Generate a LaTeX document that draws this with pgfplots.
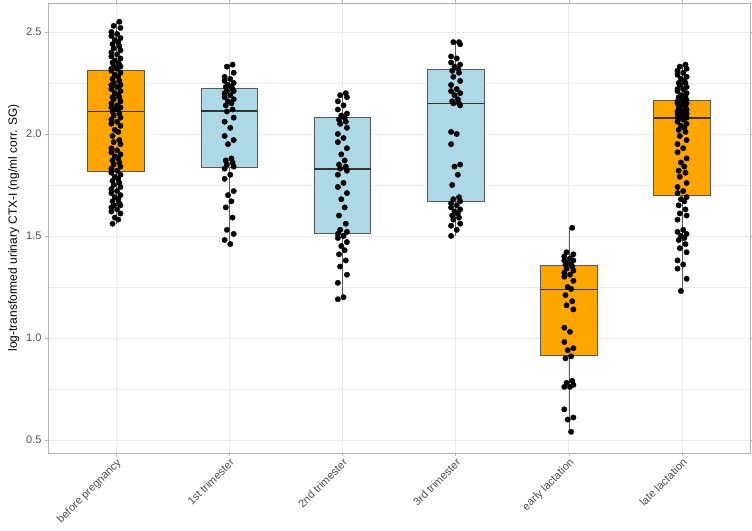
\documentclass[border=0pt]{standalone}
\usepackage{pgfplots}
\pgfplotsset{compat=1.18}
\usepackage{pgfplotstable}
\usepackage{fontspec}
\setmainfont{Liberation Sans}
\definecolor{boxorange}{HTML}{FFA500}
\definecolor{boxblue}{HTML}{ADD8E6}
\definecolor{gridgray}{HTML}{EBEBEB}
\definecolor{bordergray}{HTML}{B3B3B3}
\definecolor{textgray}{HTML}{4D4D4D}
\definecolor{outl}{HTML}{5A5A5A}
\definecolor{medc}{HTML}{333333}

% box statistics: pos lw lq med uq uw
\pgfplotstableread{
pos lw lq med uq uw
0 1.56 1.815 2.109 2.314 2.55
1 1.46 1.837 2.113 2.224 2.34
2 1.19 1.513 1.827 2.080 2.20
3 1.50 1.672 2.149 2.317 2.45
4 0.54 0.915 1.237 1.356 1.54
5 1.23 1.699 2.078 2.167 2.34
}\boxstats

\pgfplotstableread{
x y
0.03 2.55
-0.02 2.53
0.04 2.52
-0.04 2.50
0.01 2.49
-0.04 2.48
0.04 2.47
-0.01 2.46
0.02 2.45
-0.03 2.44
0.03 2.43
-0.02 2.42
0.04 2.41
-0.04 2.40
0.01 2.39
-0.04 2.38
0.04 2.37
-0.01 2.36
0.02 2.35
-0.03 2.35
0.03 2.34
-0.02 2.33
0.04 2.33
-0.04 2.32
0.01 2.32
-0.04 2.31
0.04 2.30
-0.01 2.29
0.02 2.28
-0.03 2.27
0.03 2.26
-0.02 2.25
0.04 2.24
-0.04 2.24
0.01 2.23
-0.04 2.22
0.04 2.21
-0.01 2.20
0.02 2.19
-0.03 2.18
0.03 2.18
-0.02 2.17
0.04 2.16
-0.04 2.15
0.01 2.14
-0.04 2.13
0.04 2.13
-0.01 2.12
0.02 2.12
-0.03 2.11
0.03 2.10
-0.02 2.09
0.04 2.08
-0.04 2.07
0.01 2.06
-0.04 2.05
0.04 2.04
-0.01 2.02
0.02 2.01
-0.03 1.99
0.03 1.97
-0.02 1.96
0.04 1.95
-0.04 1.93
0.01 1.92
-0.04 1.91
0.04 1.90
-0.01 1.89
0.02 1.88
-0.03 1.87
0.03 1.86
-0.02 1.85
0.04 1.84
-0.04 1.83
0.01 1.82
-0.04 1.81
0.04 1.80
-0.01 1.79
0.02 1.78
-0.03 1.77
0.03 1.76
-0.02 1.75
0.04 1.74
-0.04 1.73
0.01 1.72
-0.04 1.71
0.04 1.70
-0.01 1.69
0.02 1.68
-0.03 1.67
0.03 1.66
-0.02 1.65
0.04 1.65
-0.04 1.64
0.01 1.63
-0.04 1.62
0.04 1.61
-0.01 1.59
0.02 1.58
-0.03 1.56
}\ptsA

\pgfplotstableread{
x y
1.03 2.34
0.98 2.33
1.04 2.30
0.96 2.28
1.01 2.27
0.96 2.26
1.04 2.25
0.99 2.24
1.02 2.23
0.97 2.23
1.03 2.22
0.98 2.21
1.04 2.21
0.96 2.20
1.01 2.19
0.96 2.18
1.04 2.17
0.99 2.16
1.02 2.15
0.97 2.14
1.03 2.12
0.98 2.11
1.04 2.08
0.96 2.06
1.01 2.03
0.96 1.99
1.04 1.97
0.99 1.95
1.02 1.88
0.97 1.87
1.03 1.86
0.98 1.85
1.04 1.84
0.96 1.83
1.01 1.80
0.96 1.78
1.04 1.72
0.99 1.70
1.02 1.67
0.97 1.64
1.03 1.59
0.98 1.53
1.04 1.51
0.96 1.48
1.01 1.46
}\ptsB

\pgfplotstableread{
x y
2.03 2.20
1.98 2.19
2.04 2.18
1.96 2.16
2.01 2.14
1.96 2.12
2.04 2.10
1.99 2.09
2.02 2.08
1.97 2.07
2.03 2.06
1.98 2.05
2.04 2.03
1.96 2.00
2.01 1.98
1.96 1.96
2.04 1.93
1.99 1.90
2.02 1.87
1.97 1.85
2.03 1.84
1.98 1.83
2.04 1.82
1.96 1.80
2.01 1.76
1.96 1.74
2.04 1.71
1.99 1.68
2.02 1.64
1.97 1.60
2.03 1.56
1.98 1.53
2.04 1.52
1.96 1.51
2.01 1.50
1.96 1.49
2.04 1.47
1.99 1.45
2.02 1.43
1.97 1.41
2.03 1.38
1.98 1.35
2.04 1.31
1.96 1.27
2.01 1.20
1.96 1.19
}\ptsC

\pgfplotstableread{
x y
3.03 2.45
2.98 2.45
3.04 2.44
2.96 2.38
3.01 2.37
2.96 2.35
3.04 2.34
2.99 2.33
3.02 2.32
2.97 2.31
3.03 2.30
2.98 2.28
3.04 2.26
2.96 2.24
3.01 2.22
2.96 2.21
3.04 2.20
2.99 2.19
3.02 2.17
2.97 2.16
3.03 2.15
2.98 2.15
3.04 2.14
2.96 2.01
3.01 2.00
2.96 1.95
3.04 1.85
2.99 1.84
3.02 1.80
2.97 1.75
3.03 1.69
2.98 1.68
3.04 1.67
2.96 1.66
3.01 1.65
2.96 1.64
3.04 1.63
2.99 1.62
3.02 1.61
2.97 1.60
3.03 1.59
2.98 1.58
3.04 1.56
2.96 1.55
3.01 1.53
2.96 1.50
}\ptsD

\pgfplotstableread{
x y
4.03 1.54
3.98 1.42
4.04 1.41
3.96 1.40
4.01 1.39
3.96 1.38
4.04 1.38
3.99 1.37
4.02 1.36
3.97 1.36
4.03 1.35
3.98 1.34
4.04 1.33
3.96 1.32
4.01 1.31
3.96 1.30
4.04 1.28
3.99 1.25
4.02 1.24
3.97 1.21
4.03 1.18
3.98 1.16
4.04 1.14
3.96 1.05
4.01 1.03
3.96 0.98
4.04 0.95
3.99 0.94
4.02 0.91
3.97 0.90
4.03 0.79
3.98 0.78
4.04 0.77
3.96 0.76
4.01 0.76
3.96 0.65
4.04 0.61
3.99 0.60
4.02 0.54
}\ptsE

\pgfplotstableread{
x y
5.03 2.34
4.98 2.33
5.04 2.32
4.96 2.31
5.01 2.30
4.96 2.29
5.04 2.28
4.99 2.27
5.02 2.26
4.97 2.25
5.03 2.25
4.98 2.24
5.04 2.23
4.96 2.22
5.01 2.22
4.96 2.21
5.04 2.20
4.99 2.19
5.02 2.19
4.97 2.18
5.03 2.18
4.98 2.17
5.04 2.165
4.96 2.16
5.01 2.16
4.96 2.15
5.04 2.15
4.99 2.14
5.02 2.14
4.97 2.13
5.03 2.13
4.98 2.12
5.04 2.12
4.96 2.11
5.01 2.11
4.96 2.10
5.04 2.10
4.99 2.10
5.02 2.09
4.97 2.09
5.03 2.09
4.98 2.08
5.04 2.08
4.96 2.08
5.01 2.07
4.96 2.06
5.04 2.05
4.99 2.04
5.02 2.03
4.97 2.02
5.03 2.01
4.98 1.99
5.04 1.97
4.96 1.95
5.01 1.93
4.96 1.91
5.04 1.88
4.99 1.86
5.02 1.84
4.97 1.82
5.03 1.81
4.98 1.79
5.04 1.76
4.96 1.74
5.01 1.72
4.96 1.71
5.04 1.69
4.99 1.68
5.02 1.67
4.97 1.65
5.03 1.63
4.98 1.61
5.04 1.60
4.96 1.58
5.01 1.53
4.96 1.52
5.04 1.51
4.99 1.50
5.02 1.49
4.97 1.48
5.03 1.46
4.98 1.44
5.04 1.42
4.96 1.38
5.01 1.36
4.96 1.34
5.04 1.29
4.99 1.23
}\ptsF

% one box: #1 position, #2 lw, #3 lq, #4 med, #5 uq, #6 uw, #7 fill colour
\newcommand{\gbox}[7]{%
  \addplot[draw=outl, line width=0.6bp] coordinates {(#1,#2) (#1,#3)};
  \addplot[draw=outl, line width=0.6bp] coordinates {(#1,#5) (#1,#6)};
  \addplot[fill=#7, draw=outl, line width=0.6bp] coordinates {(#1-0.25,#3) (#1+0.25,#3) (#1+0.25,#5) (#1-0.25,#5) (#1-0.25,#3)} -- cycle;
  \addplot[draw=medc, line width=1.5bp] coordinates {(#1-0.25,#4) (#1+0.25,#4)};
}

\begin{document}
\begin{tikzpicture}
\begin{axis}[
  scale only axis, width=702bp, height=450bp,
  xmin=-0.6, xmax=5.6, ymin=0.436, ymax=2.642,
  xtick={0,1,2,3,4,5},
  xticklabels={before pregnancy,1st trimester,2nd trimester,3rd trimester,early lactation,late lactation},
  x tick label style={rotate=45, anchor=north east, font=\fontsize{11}{12}\selectfont, text=textgray, inner sep=1bp},
  ytick={0.5,1,1.5,2,2.5},
  yticklabels={0.5,1.0,1.5,2.0,2.5},
  minor ytick={0.75,1.25,1.75,2.25},
  y tick label style={font=\fontsize{11}{13}\selectfont, text=textgray},
  grid=both,
  major grid style={gridgray, line width=0.7bp},
  minor grid style={gridgray, line width=0.4bp},
  axis line style={bordergray, line width=0.8bp},
  tick align=outside, major tick length=3bp, minor tick length=0pt,
  tick style={bordergray, line width=0.6bp},
  ylabel={log-transformed urinary CTX-I (ng/ml corr. SG)},
  ylabel style={font=\fontsize{12}{14}\selectfont, text=black},
]
\gbox{0}{1.56}{1.815}{2.109}{2.314}{2.55}{boxorange}
\gbox{1}{1.46}{1.837}{2.113}{2.224}{2.34}{boxblue}
\gbox{2}{1.19}{1.513}{1.827}{2.080}{2.20}{boxblue}
\gbox{3}{1.50}{1.672}{2.149}{2.317}{2.45}{boxblue}
\gbox{4}{0.54}{0.915}{1.237}{1.356}{1.54}{boxorange}
\gbox{5}{1.23}{1.699}{2.078}{2.167}{2.34}{boxorange}

\addplot[only marks, mark=*, mark size=2.7bp, draw=black, fill=black] table[x=x,y=y] {\ptsA};
\addplot[only marks, mark=*, mark size=2.7bp, draw=black, fill=black] table[x=x,y=y] {\ptsB};
\addplot[only marks, mark=*, mark size=2.7bp, draw=black, fill=black] table[x=x,y=y] {\ptsC};
\addplot[only marks, mark=*, mark size=2.7bp, draw=black, fill=black] table[x=x,y=y] {\ptsD};
\addplot[only marks, mark=*, mark size=2.7bp, draw=black, fill=black] table[x=x,y=y] {\ptsE};
\addplot[only marks, mark=*, mark size=2.7bp, draw=black, fill=black] table[x=x,y=y] {\ptsF};
\end{axis}
\pgfresetboundingbox
\path[use as bounding box] ([xshift=-48bp,yshift=-77bp]current axis.south west) rectangle ([xshift=2bp,yshift=3bp]current axis.north east);
\end{tikzpicture}
\end{document}
